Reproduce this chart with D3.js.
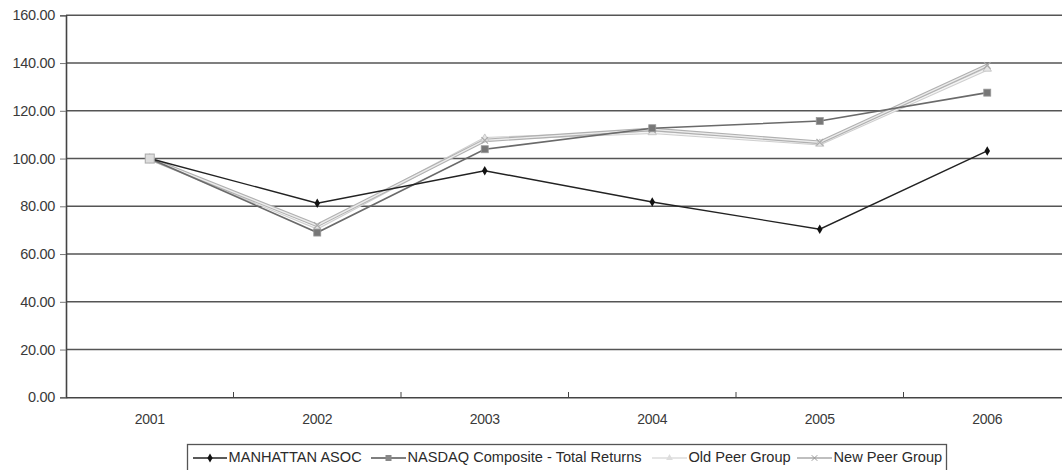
<!DOCTYPE html>
<html><head><meta charset="utf-8">
<script src="https://cdn.jsdelivr.net/npm/d3@7"></script>
<style>body{margin:0;background:#fff;} svg{display:block;font-family:"Liberation Sans",Arial,sans-serif;}</style>
</head><body>
<svg id="c" width="1062" height="470"></svg>
<script>
const years = ["2001","2002","2003","2004","2005","2006"];
const manhattan = [100, 81.3, 94.9, 81.8, 70.4, 103.2];
const nasdaq = [100, 69.0, 103.9, 112.7, 115.7, 127.6];
const oldPeer = [100, 71.0, 108.3, 111.0, 106.2, 137.6];
const newPeer = [100, 72.0, 107.6, 112.2, 106.8, 139.0];
const yTicks = [0, 20, 40, 60, 80, 100, 120, 140, 160];
const seriesNames = ["MANHATTAN ASOC", "NASDAQ Composite - Total Returns", "Old Peer Group", "New Peer Group"];

const FONT = "Liberation Sans, Arial, sans-serif";
const svg = d3.select("#c");
const x = d3.scaleBand().domain(years).range([66, 1071]);
const y = d3.scaleLinear().domain([0, 160]).range([397.3, 15.3]);
const cx = d => x(d) + x.bandwidth() / 2;

// gridlines
svg.append("g").selectAll("line").data(yTicks.slice(1)).join("line")
  .attr("x1", 66).attr("x2", 1062).attr("y1", d => y(d)).attr("y2", d => y(d))
  .attr("stroke", "#555").attr("stroke-width", 1.5);

// y axis
const ya = svg.append("g").attr("transform", "translate(66,0)")
  .call(d3.axisLeft(y).tickValues(yTicks).tickFormat(d3.format(".2f")).tickSize(6).tickPadding(5));
ya.select(".domain").attr("stroke", "#444").attr("stroke-width", 1.6);
ya.selectAll(".tick line").attr("stroke", "#777");
ya.selectAll("text").attr("font-size", 14.5).attr("fill", "#3a3a3a").attr("font-family", FONT).attr("letter-spacing", -0.3);

// x axis
const xa = svg.append("g").attr("transform", "translate(0,397.3)")
  .call(d3.axisBottom(x).tickSize(0).tickPadding(17));
xa.select(".domain").attr("stroke", "#444").attr("stroke-width", 1.6);
xa.selectAll("text").attr("font-size", 14).attr("fill", "#3a3a3a").attr("font-family", FONT).attr("letter-spacing", -0.3);
// band boundary ticks
svg.append("g").selectAll("line").data(years.slice(1)).join("line")
  .attr("x1", d => x(d)).attr("x2", d => x(d)).attr("y1", 397.3).attr("y2", 392)
  .attr("stroke", "#444").attr("stroke-width", 1);

const line = d3.line().x((d, i) => cx(years[i])).y(d => y(d));

// peer groups (hollow light lines)
function hollow(data, outer, inner) {
  svg.append("path").datum(data).attr("d", line).attr("fill", "none")
    .attr("stroke", outer).attr("stroke-width", 3.6);
  svg.append("path").datum(data).attr("d", line).attr("fill", "none")
    .attr("stroke", inner).attr("stroke-width", 1.4);
}
hollow(oldPeer, "#cfcfcf", "#f4f4f4");
hollow(newPeer, "#b0b0b0", "#ececec");

// old peer markers (triangles)
svg.append("g").selectAll("path").data(oldPeer).join("path")
  .attr("transform", (d, i) => `translate(${cx(years[i])},${y(d)})`)
  .attr("d", d3.symbol(d3.symbolTriangle, 30)).attr("fill", "#e6e6e6").attr("stroke", "#c8c8c8");
// new peer markers (x)
svg.append("g").selectAll("path").data(newPeer).join("path")
  .attr("transform", (d, i) => `translate(${cx(years[i])},${y(d)})`)
  .attr("d", d3.symbol(d3.symbolX, 30)).attr("fill", "none").attr("stroke", "#aaa").attr("stroke-width", 1.2);

// nasdaq
svg.append("path").datum(nasdaq).attr("d", line).attr("fill", "none")
  .attr("stroke", "#6a6a6a").attr("stroke-width", 1.6);
svg.append("g").selectAll("rect").data(nasdaq).join("rect")
  .attr("x", (d, i) => cx(years[i]) - 3.5).attr("y", d => y(d) - 3.5)
  .attr("width", 7).attr("height", 7).attr("fill", "#777").attr("stroke", "#999").attr("stroke-width", 0.8);

// manhattan
svg.append("path").datum(manhattan).attr("d", line).attr("fill", "none")
  .attr("stroke", "#222").attr("stroke-width", 1.4);
svg.append("g").selectAll("path").data(manhattan).join("path")
  .attr("transform", (d, i) => `translate(${cx(years[i])},${y(d)})`)
  .attr("d", d3.symbol(d3.symbolDiamond, 26)).attr("fill", "#111");

// 2001 overlapping start marker
svg.append("rect").attr("x", cx("2001") - 4.5).attr("y", y(100) - 4.5).attr("width", 9).attr("height", 9)
  .attr("fill", "#ddd").attr("stroke", "#aaa");

// legend
const lg = svg.append("g");
lg.append("rect").attr("x", 187.5).attr("y", 444.5).attr("width", 759).attr("height", 30)
  .attr("fill", "#fff").attr("stroke", "#555").attr("stroke-width", 1.3);
const items = [
  {x: 193, w: 34, name: seriesNames[0], stroke: "#222", marker: "diamond"},
  {x: 371, w: 35, name: seriesNames[1], stroke: "#555", marker: "square"},
  {x: 652, w: 35, name: seriesNames[2], stroke: "#ddd", marker: "triangle"},
  {x: 797, w: 35, name: seriesNames[3], stroke: "#aaa", marker: "x"}
];
const ly = 458;
items.forEach(it => {
  lg.append("line").attr("x1", it.x).attr("x2", it.x + it.w).attr("y1", ly).attr("y2", ly)
    .attr("stroke", it.stroke).attr("stroke-width", 1.3);
  const mx = it.x + it.w / 2;
  if (it.marker === "diamond") lg.append("path").attr("transform", `translate(${mx},${ly})`).attr("d", d3.symbol(d3.symbolDiamond, 24)).attr("fill", "#111");
  if (it.marker === "square") lg.append("rect").attr("x", mx - 3).attr("y", ly - 3).attr("width", 6).attr("height", 6).attr("fill", "#888");
  if (it.marker === "triangle") lg.append("path").attr("transform", `translate(${mx},${ly})`).attr("d", d3.symbol(d3.symbolTriangle, 20)).attr("fill", "#ddd");
  if (it.marker === "x") lg.append("path").attr("transform", `translate(${mx},${ly})`).attr("d", d3.symbol(d3.symbolX, 22)).attr("fill", "none").attr("stroke", "#999");
  lg.append("text").attr("x", it.x + it.w + 1.5).attr("y", 462).attr("font-size", 14.6)
    .attr("fill", "#2a2a2a").attr("font-family", FONT).text(it.name);
});
</script>
</body></html>
